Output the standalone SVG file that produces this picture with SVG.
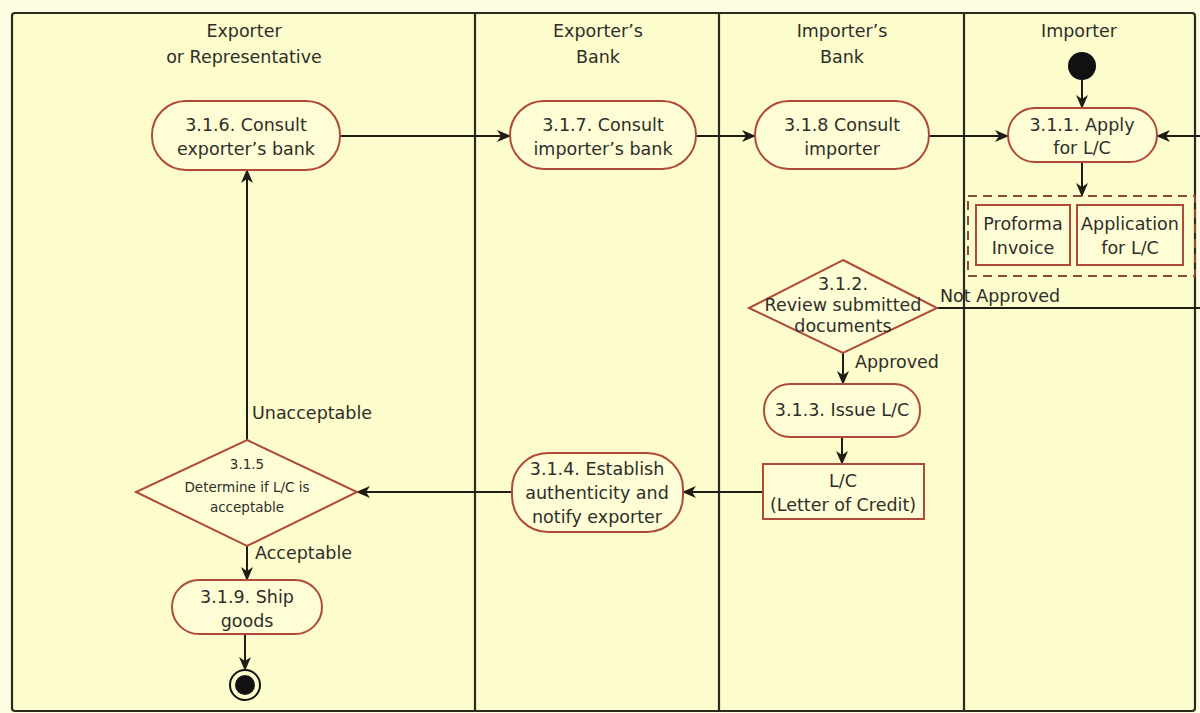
<svg xmlns="http://www.w3.org/2000/svg" width="1200" height="713" viewBox="0 0 1200 713">
  <style>
    .lane { fill: none; stroke: #2b2b1c; stroke-width: 2.2; }
    .node { fill: #fefdd6; stroke: #b04a38; stroke-width: 2; }
    .conn { fill: none; stroke: #1e1e14; stroke-width: 2; }
    .dash { fill: none; stroke: #8a4a3a; stroke-width: 2; stroke-dasharray: 9 6; }
    text { font-family: "DejaVu Sans", Verdana, sans-serif; font-size: 17.5px; fill: #2e2e2a; }
    .mid { text-anchor: middle; }
    .small { font-size: 13.5px; }
  </style>
  <defs>
    <marker id="arrow" viewBox="0 0 14 12" refX="13" refY="6" markerWidth="14" markerHeight="12" markerUnits="userSpaceOnUse" orient="auto">
      <path d="M0,0 L14,6 L0,12 L4,6 Z" fill="#1e1e14"/>
    </marker>
  </defs>

  <!-- page background -->
  <rect x="0" y="0" width="1200" height="713" fill="#fefde2"/>
  <rect x="12" y="13" width="1183" height="698" fill="#fdfccc"/>

  <!-- swimlanes -->
  <g id="lanes">
    <rect class="lane" x="12" y="13" width="1183" height="698" rx="3"/>
    <line class="lane" x1="475" y1="13" x2="475" y2="711"/>
    <line class="lane" x1="719" y1="13" x2="719" y2="711"/>
    <line class="lane" x1="964" y1="13" x2="964" y2="711"/>
    <text class="mid" x="244" y="37">Exporter</text>
    <text class="mid" x="244" y="63">or Representative</text>
    <text class="mid" x="598" y="37">Exporter’s</text>
    <text class="mid" x="598" y="63">Bank</text>
    <text class="mid" x="842" y="37">Importer’s</text>
    <text class="mid" x="842" y="63">Bank</text>
    <text class="mid" x="1079" y="37">Importer</text>
  </g>

  <!-- connectors -->
  <g id="connectors">
    <line class="conn" x1="1082" y1="80" x2="1082" y2="108" marker-end="url(#arrow)"/>
    <line class="conn" x1="1082" y1="162" x2="1082" y2="196" marker-end="url(#arrow)"/>
    <line class="conn" x1="340" y1="136" x2="510" y2="136" marker-end="url(#arrow)"/>
    <line class="conn" x1="696" y1="136" x2="755" y2="136" marker-end="url(#arrow)"/>
    <line class="conn" x1="929" y1="136" x2="1008" y2="136" marker-end="url(#arrow)"/>
    <line class="conn" x1="1200" y1="136" x2="1157" y2="136" marker-end="url(#arrow)"/>
    <line class="conn" x1="937" y1="308" x2="1200" y2="308"/>
    <line class="conn" x1="843" y1="353" x2="843" y2="384" marker-end="url(#arrow)"/>
    <line class="conn" x1="842" y1="437" x2="842" y2="464" marker-end="url(#arrow)"/>
    <line class="conn" x1="763" y1="492" x2="683" y2="492" marker-end="url(#arrow)"/>
    <line class="conn" x1="512" y1="492" x2="357" y2="492" marker-end="url(#arrow)"/>
    <line class="conn" x1="247" y1="440" x2="247" y2="170" marker-end="url(#arrow)"/>
    <line class="conn" x1="247" y1="546" x2="247" y2="580" marker-end="url(#arrow)"/>
    <line class="conn" x1="245" y1="634" x2="245" y2="670" marker-end="url(#arrow)"/>
    <text x="940" y="302">Not Approved</text>
    <text x="855" y="368">Approved</text>
    <text x="252" y="419">Unacceptable</text>
    <text x="255" y="559">Acceptable</text>
  </g>

  <!-- start -->
  <g id="start">
    <circle cx="1082" cy="66" r="14" fill="#111"/>
  </g>

  <g id="n311">
    <rect class="node" x="1008" y="108" width="149" height="54" rx="27"/>
    <text class="mid" x="1082" y="131">3.1.1. Apply</text>
    <text class="mid" x="1082" y="154">for L/C</text>
  </g>

  <g id="documents">
    <rect class="dash" x="968" y="196" width="227" height="80"/>
    <rect class="node" x="976" y="205" width="94" height="60"/>
    <text class="mid" x="1023" y="230">Proforma</text>
    <text class="mid" x="1023" y="254">Invoice</text>
    <rect class="node" x="1077" y="205" width="106" height="60"/>
    <text class="mid" x="1130" y="230">Application</text>
    <text class="mid" x="1130" y="254">for L/C</text>
  </g>

  <g id="n312">
    <polygon class="node" points="843,260 937,308 843,353 749,308"/>
    <text class="mid" x="843" y="290">3.1.2.</text>
    <text class="mid" x="843" y="311">Review submitted</text>
    <text class="mid" x="843" y="332">documents</text>
  </g>

  <g id="n313">
    <rect class="node" x="764" y="384" width="156" height="53" rx="26"/>
    <text class="mid" x="842" y="416">3.1.3. Issue L/C</text>
  </g>

  <g id="lc">
    <rect class="node" x="763" y="464" width="161" height="55"/>
    <text class="mid" x="843" y="487">L/C</text>
    <text class="mid" x="843" y="511">(Letter of Credit)</text>
  </g>

  <g id="n314">
    <rect class="node" x="512" y="453" width="171" height="79" rx="36"/>
    <text class="mid" x="597" y="475">3.1.4. Establish</text>
    <text class="mid" x="597" y="499">authenticity and</text>
    <text class="mid" x="597" y="523">notify exporter</text>
  </g>

  <g id="n315">
    <polygon class="node" points="247,440 357,492 247,546 136,492"/>
    <text class="mid small" x="247" y="469">3.1.5</text>
    <text class="mid small" x="247" y="492">Determine if L/C is</text>
    <text class="mid small" x="247" y="512">acceptable</text>
  </g>

  <g id="n316">
    <rect class="node" x="152" y="101" width="188" height="69" rx="34"/>
    <text class="mid" x="246" y="131">3.1.6. Consult</text>
    <text class="mid" x="246" y="155">exporter’s bank</text>
  </g>

  <g id="n317">
    <rect class="node" x="510" y="101" width="186" height="68" rx="34"/>
    <text class="mid" x="603" y="131">3.1.7. Consult</text>
    <text class="mid" x="603" y="155">importer’s bank</text>
  </g>

  <g id="n318">
    <rect class="node" x="755" y="101" width="174" height="68" rx="34"/>
    <text class="mid" x="842" y="131">3.1.8 Consult</text>
    <text class="mid" x="842" y="155">importer</text>
  </g>

  <g id="n319">
    <rect class="node" x="172" y="580" width="150" height="54" rx="27"/>
    <text class="mid" x="247" y="603">3.1.9. Ship</text>
    <text class="mid" x="247" y="627">goods</text>
  </g>

  <!-- final -->
  <g id="end">
    <circle cx="245" cy="685" r="15" fill="#fdfccc" stroke="#111" stroke-width="2"/>
    <circle cx="245" cy="685" r="10" fill="#111"/>
  </g>
</svg>
